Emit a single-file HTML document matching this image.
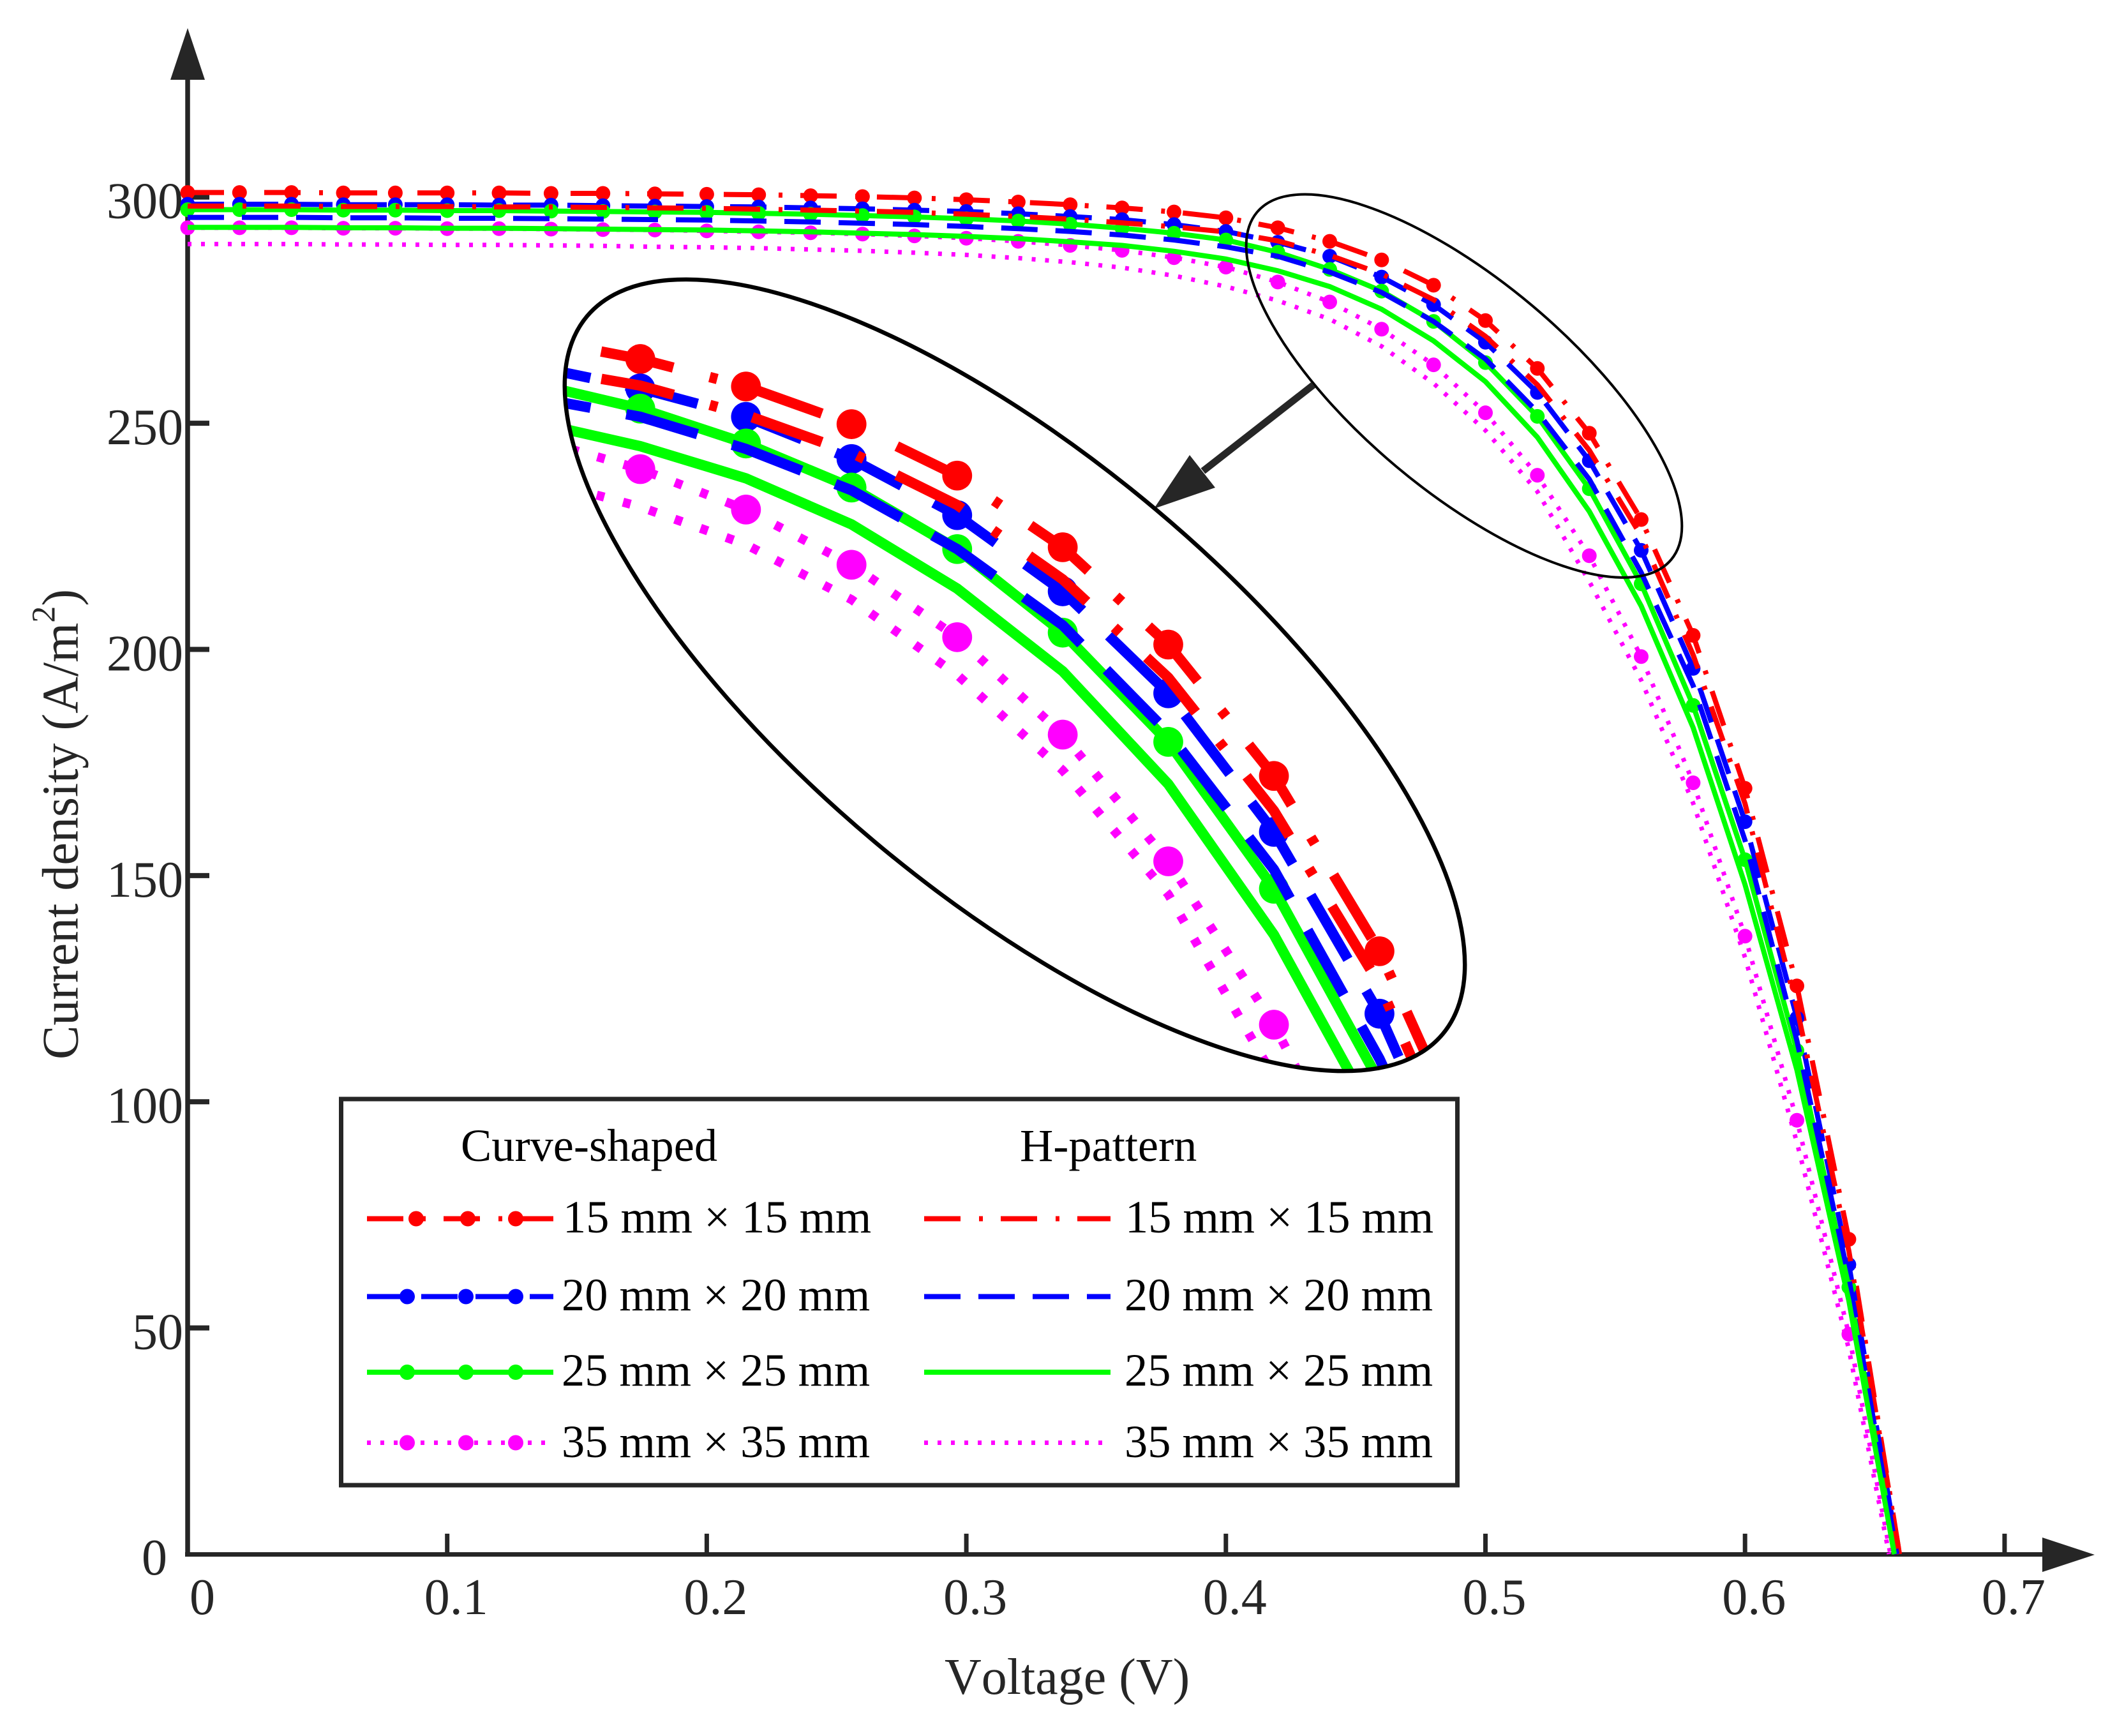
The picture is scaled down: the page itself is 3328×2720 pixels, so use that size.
<!DOCTYPE html>
<html lang="en">
<head>
<meta charset="utf-8">
<title>Current density vs voltage</title>
<style>
  html, body { margin: 0; padding: 0; background: #fff; width: 3328px; height: 2720px; overflow: hidden; }
  svg { display: block; overflow: hidden; }
  text { font-family: "Liberation Serif", serif; font-kerning: none; }
</style>
</head>
<body>
<svg id="chart" xmlns="http://www.w3.org/2000/svg" width="3328" height="2720" viewBox="0 0 3328 2720">
  <defs>
    <clipPath id="inset-clip"><ellipse cx="1590" cy="1058" rx="875" ry="341" transform="rotate(40 1590 1058)"/></clipPath>
  </defs>
  <rect x="0" y="0" width="3328" height="2720" fill="#fff"/>

  <g id="axes" stroke="#262626" fill="#262626">
    <line x1="294" y1="120" x2="294" y2="2439" stroke-width="7.5"/>
    <line x1="290" y1="2435.5" x2="3205" y2="2435.5" stroke-width="7"/>
    <polygon points="294,44 267,125 321,125" stroke="none"/>
    <polygon points="3282,2436 3200,2409 3200,2463" stroke="none"/>
  </g>
  <g id="y-ticks"></g>
  <g id="x-ticks"></g>

  <text x="1480" y="2654" font-size="80" fill="#262626">Voltage (V)</text>
  <text transform="translate(121.5 1660) rotate(-90)" font-size="80" fill="#262626">Current density (A/m<tspan font-size="52" dy="-36">2</tspan><tspan dy="36">)</tspan></text>

  <g id="main-plot"></g>

  <ellipse cx="2294" cy="604.7" rx="423.5" ry="165" transform="rotate(40 2294 604.7)" fill="none" stroke="#000" stroke-width="4"/>

  <g>
    <line x1="2058" y1="603" x2="1885" y2="738" stroke="#262626" stroke-width="11"/>
    <polygon points="1808,797 1864,713 1904,764" fill="#262626"/>
  </g>

  <g id="inset-clipped" clip-path="url(#inset-clip)">
    <g id="inset-plot" transform="translate(-3069 -162) scale(2.034 2.03)"></g>
  </g>
  <ellipse cx="1590" cy="1058" rx="875" ry="341" transform="rotate(40 1590 1058)" fill="none" stroke="#000" stroke-width="6.5"/>

  <g id="legend" font-size="72.4" fill="#000">
    <rect x="534.5" y="1722" width="1749" height="605" fill="#fff" stroke="#262626" stroke-width="7"/>
    <text x="722" y="1819">Curve-shaped</text>
    <text x="1598" y="1819">H-pattern</text>

    <g>
      <line x1="575" y1="1909.5" x2="867" y2="1909.5" stroke="#ff0000" stroke-width="8" stroke-dasharray="57 29 6 28"/>
      <circle cx="652" cy="1909.5" r="12" fill="#ff0000"/>
      <circle cx="733" cy="1909.5" r="12" fill="#ff0000"/>
      <circle cx="808" cy="1909.5" r="12" fill="#ff0000"/>
      <text x="882" y="1931">15 mm × 15 mm</text>
    </g>
    <g>
      <line x1="575" y1="2031.5" x2="867" y2="2031.5" stroke="#0000ff" stroke-width="8" stroke-dasharray="57 28"/>
      <circle cx="638" cy="2031.5" r="12" fill="#0000ff"/>
      <circle cx="730" cy="2031.5" r="12" fill="#0000ff"/>
      <circle cx="808" cy="2031.5" r="12" fill="#0000ff"/>
      <text x="880" y="2053">20 mm × 20 mm</text>
    </g>
    <g>
      <line x1="575" y1="2150" x2="867" y2="2150" stroke="#00ff00" stroke-width="8"/>
      <circle cx="638" cy="2150" r="12" fill="#00ff00"/>
      <circle cx="730" cy="2150" r="12" fill="#00ff00"/>
      <circle cx="808" cy="2150" r="12" fill="#00ff00"/>
      <text x="880" y="2171">25 mm × 25 mm</text>
    </g>
    <g>
      <line x1="575" y1="2260.5" x2="862" y2="2260.5" stroke="#ff00ff" stroke-width="7" stroke-dasharray="6 15"/>
      <circle cx="638" cy="2260.5" r="12" fill="#ff00ff"/>
      <circle cx="730" cy="2260.5" r="12" fill="#ff00ff"/>
      <circle cx="808" cy="2260.5" r="12" fill="#ff00ff"/>
      <text x="880" y="2283">35 mm × 35 mm</text>
    </g>

    <g>
      <line x1="1448" y1="1909.5" x2="1740" y2="1909.5" stroke="#ff0000" stroke-width="8" stroke-dasharray="57 29 6 28"/>
      <text x="1763" y="1931">15 mm × 15 mm</text>
    </g>
    <g>
      <line x1="1448" y1="2031.5" x2="1740" y2="2031.5" stroke="#0000ff" stroke-width="8" stroke-dasharray="57 28"/>
      <text x="1762" y="2053">20 mm × 20 mm</text>
    </g>
    <g>
      <line x1="1448" y1="2150" x2="1740" y2="2150" stroke="#00ff00" stroke-width="8"/>
      <text x="1762" y="2171">25 mm × 25 mm</text>
    </g>
    <g>
      <line x1="1448" y1="2260.5" x2="1735" y2="2260.5" stroke="#ff00ff" stroke-width="7" stroke-dasharray="6 15"/>
      <text x="1762" y="2283">35 mm × 35 mm</text>
    </g>
  </g>
</svg>

<script>
const voltage = [0,0.02,0.04,0.06,0.08,0.10,0.12,0.14,0.16,0.18,0.20,0.22,0.24,0.26,0.28,0.30,0.32,0.34,0.36,0.38,0.40,0.42,0.44,0.46,0.48,0.50,0.52,0.54,0.56,0.58,0.60,0.62,0.64];

const curve15 = [301.0,301.0,301.0,300.9,300.9,300.9,300.9,300.8,300.8,300.7,300.6,300.5,300.3,300.1,299.8,299.4,298.9,298.3,297.6,296.7,295.4,293.2,290.2,286.1,280.5,272.7,262.1,247.8,228.7,203.1,169.3,125.6,69.6];
const curve20 = [298.4,298.4,298.4,298.3,298.3,298.3,298.2,298.2,298.1,298.0,297.9,297.8,297.6,297.4,297.1,296.8,296.3,295.7,295.0,293.9,292.4,290.0,286.9,282.3,276.2,267.9,256.8,241.7,221.9,195.8,161.9,118.5,64.0];
const curve25 = [297.2,297.2,297.2,297.1,297.1,297.0,297.0,296.9,296.8,296.7,296.6,296.4,296.2,295.9,295.6,295.2,294.7,294.0,293.1,292.0,290.5,287.8,284.0,279.2,272.5,263.4,251.5,235.5,214.5,187.6,153.5,111.3,59.0];
const curve35 = [293.2,293.2,293.2,293.1,293.1,293.0,293.0,292.9,292.8,292.7,292.5,292.3,292.1,291.8,291.4,290.9,290.2,289.3,288.2,286.6,284.5,281.2,276.8,270.8,262.9,252.3,238.5,220.7,198.4,170.5,136.6,95.9,48.6];

const hPattern15 = [298.0,298.0,298.0,297.9,297.9,297.9,297.8,297.8,297.7,297.6,297.5,297.3,297.1,296.9,296.6,296.2,295.7,295.1,294.3,293.4,292.3,290.3,287.1,283.0,277.3,269.2,258.5,244.0,225.1,198.8,165.9,120.7,67.0];
const hPattern20 = [295.5,295.5,295.5,295.4,295.4,295.3,295.3,295.2,295.1,295.0,294.9,294.7,294.5,294.2,293.9,293.5,293.0,292.4,291.6,290.5,289.0,286.9,283.4,278.9,272.5,264.2,252.5,237.6,217.0,192.0,157.8,113.5,61.0];
const hPattern25 = [293.3,293.3,293.3,293.2,293.2,293.1,293.1,293.0,292.9,292.8,292.7,292.5,292.3,292.0,291.7,291.3,290.8,290.1,289.3,288.0,286.3,283.7,280.2,275.2,268.2,259.2,246.9,230.5,209.6,182.7,148.0,107.0,56.0];
const hPattern35 = [289.6,289.6,289.6,289.5,289.5,289.4,289.4,289.3,289.2,289.0,288.9,288.7,288.4,288.1,287.7,287.2,286.5,285.6,284.4,282.6,280.2,277.1,273.0,267.0,258.8,248.4,234.9,215.0,193.2,166.0,131.9,91.0,45.3];

const openCircuitVoltage = [0.6595,0.659,0.658,0.656,0.6595,0.6585,0.6575,0.6555];

const insetVoltageRange = [0.38,0.58];

const xTickValues = [0.1,0.2,0.3,0.4,0.5,0.6,0.7];
const xTickLabels = ["0.1","0.2","0.3","0.4","0.5","0.6","0.7"];
const yTickValues = [50,100,150,200,250,300];
const yTickLabels = ["50","100","150","200","250","300"];

const SVG_NS = "http://www.w3.org/2000/svg";

function xScale(v) { return 294 + 4067 * v; }
function yScale(j) { return 2435 - 7.0877 * j; }

function drawSeries(parent, values, endV, color, dash, lineWidth, withMarkers, name, range) {
  const vMin = range ? range[0] : -1;
  const vMax = range ? range[1] : 9;
  const pts = [];
  let skippedLength = 0;
  let prev = null;
  values.forEach((j, i) => {
    const v = voltage[i];
    const px = xScale(v);
    const py = yScale(j);
    if (v < vMin - 1e-6 && prev) skippedLength += Math.hypot(px - prev[0], py - prev[1]);
    if (v < vMin - 1e-6) prev = [px, py];
    if (v >= vMin - 1e-6 && v < vMin + 1e-6 && prev) skippedLength += Math.hypot(px - prev[0], py - prev[1]);
    if (v >= vMin - 1e-6 && v <= vMax + 1e-6) pts.push(px.toFixed(1) + "," + py.toFixed(1));
  });
  if (!range) pts.push(xScale(endV).toFixed(1) + "," + yScale(0).toFixed(1));
  const line = document.createElementNS(SVG_NS, "polyline");
  
  
  line.setAttribute("points", pts.join(" "));
  line.setAttribute("fill", "none");
  line.setAttribute("stroke", color);
  line.setAttribute("stroke-width", lineWidth);
  if (dash) {
    line.setAttribute("stroke-dasharray", dash);
    line.setAttribute("stroke-dashoffset", skippedLength.toFixed(2));
  }
  parent.appendChild(line);
  if (withMarkers) {
    values.forEach((j, i) => {
      if (voltage[i] < vMin - 1e-6 || voltage[i] > vMax + 1e-6) return;
      const dot = document.createElementNS(SVG_NS, "circle");
      
      
      dot.setAttribute("cx", xScale(voltage[i]).toFixed(1));
      dot.setAttribute("cy", yScale(j).toFixed(1));
      dot.setAttribute("r", "11.5");
      dot.setAttribute("fill", color);
      parent.appendChild(dot);
    });
  }
}

function drawAllSeries(parent, range) {
  drawSeries(parent, curve15, openCircuitVoltage[0], "#ff0000", "57 29 6 28", 8, true, "curve-15mm", range);
  drawSeries(parent, curve20, openCircuitVoltage[1], "#0000ff", "57 28", 8, true, "curve-20mm", range);
  drawSeries(parent, curve25, openCircuitVoltage[2], "#00ff00", "", 8, true, "curve-25mm", range);
  drawSeries(parent, curve35, openCircuitVoltage[3], "#ff00ff", "6 15", 7, true, "curve-35mm", range);
  drawSeries(parent, hPattern15, openCircuitVoltage[4], "#ff0000", "57 29 6 28", 8, false, "h-pattern-15mm", range);
  drawSeries(parent, hPattern20, openCircuitVoltage[5], "#0000ff", "57 28", 8, false, "h-pattern-20mm", range);
  drawSeries(parent, hPattern25, openCircuitVoltage[6], "#00ff00", "", 8, false, "h-pattern-25mm", range);
  drawSeries(parent, hPattern35, openCircuitVoltage[7], "#ff00ff", "6 15", 7, false, "h-pattern-35mm", range);
}

function drawTickLabel(parent, x, y, anchor, label, name) {
  const t = document.createElementNS(SVG_NS, "text");
  
  
  t.setAttribute("x", x);
  t.setAttribute("y", y);
  t.setAttribute("text-anchor", anchor);
  t.setAttribute("font-size", "80");
  t.setAttribute("fill", "#262626");
  t.textContent = label;
  parent.appendChild(t);
}

function drawTickMark(parent, x1, y1, x2, y2, width, name) {
  const l = document.createElementNS(SVG_NS, "line");
  
  
  l.setAttribute("x1", x1);
  l.setAttribute("y1", y1);
  l.setAttribute("x2", x2);
  l.setAttribute("y2", y2);
  l.setAttribute("stroke", "#262626");
  l.setAttribute("stroke-width", width);
  parent.appendChild(l);
}

const yTickGroup = document.getElementById("y-ticks");
yTickValues.forEach((val, i) => {
  const y = yScale(val);
  drawTickMark(yTickGroup, 294, y, 328, y, 8, "y-tick-mark");
  drawTickLabel(yTickGroup, 287, y + 33, "end", yTickLabels[i], "y-tick-label");
});
drawTickLabel(yTickGroup, 262, yScale(0) + 32, "end", "0", "y-tick-label");

const xTickGroup = document.getElementById("x-ticks");
xTickValues.forEach((val, i) => {
  const x = xScale(val);
  drawTickMark(xTickGroup, x, 2403, x, 2436, 7, "x-tick-mark");
  drawTickLabel(xTickGroup, x + 14, 2529, "middle", xTickLabels[i], "x-tick-label");
});
drawTickLabel(xTickGroup, 317, 2529, "middle", "0", "x-tick-label");

drawAllSeries(document.getElementById("main-plot"), null);
drawAllSeries(document.getElementById("inset-plot"), insetVoltageRange);
</script>
</body>
</html>
